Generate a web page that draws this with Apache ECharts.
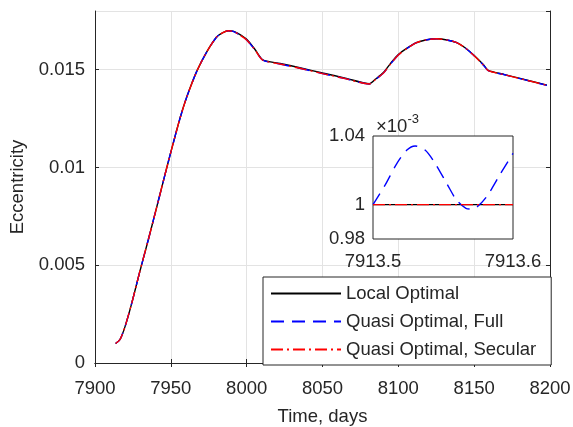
<!DOCTYPE html>
<html>
<head>
<meta charset="utf-8">
<script src="https://cdn.jsdelivr.net/npm/echarts@6/dist/echarts.min.js"></script>
<style>
html,body{margin:0;padding:0;background:#fff;}
#c{width:573px;height:427px;}
</style>
</head>
<body>
<div id="c"></div>
<script>
// ---- data ----
const days = [7913.6, 7916.5, 7919.8, 7924.2, 7929.7, 7935.1, 7939.6, 7944.0, 7946.8, 7950, 7956.0, 7960.5, 7967.0, 7973.6, 7980.2, 7984, 7987.9, 7991, 7994.5, 8000.0, 8005.5, 8010.6, 8022, 8035, 8050, 8065, 8080.9, 8085, 8090, 8095, 8100, 8106, 8112, 8118, 8125.3, 8132, 8138.5, 8144, 8149.5, 8156, 8159.3, 8170, 8185, 8198];
const eQuasiFull = [0.00100, 0.00120, 0.00186, 0.00305, 0.00472, 0.00629, 0.00764, 0.00898, 0.00983, 0.01078, 0.01250, 0.01360, 0.01490, 0.01590, 0.01667, 0.01688, 0.01699, 0.01696, 0.01682, 0.01652, 0.01601, 0.01549, 0.01529, 0.01507, 0.01480, 0.01454, 0.01427, 0.01450, 0.01481, 0.01530, 0.01575, 0.01610, 0.01638, 0.01652, 0.01658, 0.01652, 0.01638, 0.01612, 0.01575, 0.01524, 0.01495, 0.01474, 0.01445, 0.01420];
const eQuasiSecular = [0.00100, 0.00120, 0.00186, 0.00305, 0.00472, 0.00629, 0.00764, 0.00898, 0.00983, 0.01078, 0.01250, 0.01360, 0.01490, 0.01590, 0.01667, 0.01688, 0.01699, 0.01696, 0.01682, 0.01652, 0.01601, 0.01549, 0.01529, 0.01507, 0.01480, 0.01454, 0.01427, 0.01450, 0.01481, 0.01530, 0.01575, 0.01610, 0.01638, 0.01652, 0.01658, 0.01652, 0.01638, 0.01612, 0.01575, 0.01524, 0.01495, 0.01474, 0.01445, 0.01420];
const eLocal = [0.00100, 0.00120, 0.00186, 0.00305, 0.00472, 0.00629, 0.00764, 0.00898, 0.00983, 0.01078, 0.01250, 0.01360, 0.01490, 0.01590, 0.01667, 0.01688, 0.01699, 0.01697, 0.01684, 0.01655, 0.01603, 0.01550, 0.01532, 0.01510, 0.01483, 0.01457, 0.01428, 0.01452, 0.01484, 0.01533, 0.01577, 0.01611, 0.01638, 0.01652, 0.01658, 0.01652, 0.01638, 0.01612, 0.01576, 0.01526, 0.01496, 0.01475, 0.01446, 0.01421];

// inset (values in units of 1e-3)
const insetT = [7913.5, 7913.5087, 7913.5171, 7913.5242, 7913.5301, 7913.5372, 7913.5443, 7913.5526, 7913.5597, 7913.5664, 7913.5702, 7913.5740, 7913.5811, 7913.5905, 7913.6];
const insetFull = [1.000, 1.0115, 1.0241, 1.0318, 1.0342, 1.0318, 1.0241, 1.0124, 1.0027, 0.9979, 0.9975, 0.9985, 1.0046, 1.0173, 1.0299];
const insetSecularT = [7913.5, 7913.6];
const insetSecular = [1.0, 1.0];
const insetLocal = [1.0, 1.0];

const xTicks = {min: 7900, max: 8200, interval: 50};
const yTicks = {min: 0, max: 0.018, interval: 0.005};
const seriesNames = ['Local Optimal', 'Quasi Optimal, Full', 'Quasi Optimal, Secular'];

// ---- chart ----
const FONT = 'Liberation Sans, Arial, sans-serif';
const FS = 18.5;
const TXT = '#262626';
const LW = 1.4;
const SM = 0.25;
const zip = (a, b) => a.map((v, i) => [v, b[i]]);

const chart = echarts.init(document.getElementById('c'), null, {renderer: 'canvas'});

const boxAxis = {
  axisLine: {show: true, lineStyle: {color: TXT, width: 1}},
  axisTick: {show: true, inside: true, length: 4, lineStyle: {color: TXT}},
};

const option = {
  animation: false,
  backgroundColor: '#fff',
  textStyle: {fontFamily: FONT},
  grid: [
    {left: 95, top: 11, width: 455, height: 352, show: false, containLabel: false, outerBoundsMode: 'none'},
    {left: 373, top: 136, width: 140, height: 103, show: true, z: 5, containLabel: false, outerBoundsMode: 'none',
     backgroundColor: '#fff', borderColor: TXT, borderWidth: 1}
  ],
  xAxis: [
    Object.assign({}, boxAxis, {
      gridIndex: 0, type: 'value', position: 'bottom',
      min: xTicks.min, max: xTicks.max, interval: xTicks.interval,
      splitLine: {show: true, lineStyle: {color: '#e3e3e3', width: 1}},
      axisLabel: {color: TXT, fontSize: FS, fontFamily: FONT, margin: 16, formatter: v => String(v)},
      name: 'Time, days', nameLocation: 'middle', nameGap: 44,
      nameTextStyle: {color: TXT, fontSize: FS, fontFamily: FONT}
    }),
    Object.assign({}, boxAxis, {
      gridIndex: 0, type: 'value', position: 'top',
      min: xTicks.min, max: xTicks.max, interval: xTicks.interval,
      splitLine: {show: false}, axisLabel: {show: false}
    }),
    {
      gridIndex: 1, type: 'value', position: 'bottom', z: 5,
      min: 7913.5, max: 7913.6, interval: 0.1,
      axisLine: {show: false}, axisTick: {show: false}, splitLine: {show: false},
      axisLabel: {color: TXT, fontSize: FS, fontFamily: FONT, margin: 13,
        formatter: v => v.toFixed(1)}
    }
  ],
  yAxis: [
    Object.assign({}, boxAxis, {
      gridIndex: 0, type: 'value', position: 'left',
      min: yTicks.min, max: yTicks.max, interval: yTicks.interval,
      splitLine: {show: true, lineStyle: {color: '#e3e3e3', width: 1}},
      axisLabel: {color: TXT, fontSize: FS, fontFamily: FONT, margin: 10, showMaxLabel: false,
        formatter: v => String(parseFloat(v.toFixed(4)))},
      name: 'Eccentricity', nameLocation: 'middle', nameGap: 65,
      nameTextStyle: {color: TXT, fontSize: FS, fontFamily: FONT}
    }),
    Object.assign({}, boxAxis, {
      gridIndex: 0, type: 'value', position: 'right',
      min: yTicks.min, max: yTicks.max, interval: yTicks.interval,
      splitLine: {show: false}, axisLabel: {show: false}
    }),
    {
      gridIndex: 1, type: 'value', position: 'left', z: 5,
      min: 0.98, max: 1.04, interval: 0.02,
      axisLine: {show: false}, axisTick: {show: false}, splitLine: {show: false},
      axisLabel: {color: TXT, fontSize: FS, fontFamily: FONT, margin: 8,
        formatter: v => Math.abs(v - 1.02) < 1e-6 ? '' : String(parseFloat(v.toFixed(2)))}
    }
  ],
  legend: {
    orient: 'vertical', left: 263, top: 277,
    padding: [7, 15, 6, 7], itemGap: 9, itemWidth: 70, itemHeight: 18,
    backgroundColor: '#fff', borderColor: TXT, borderWidth: 1, borderRadius: 0,
    itemStyle: {color: 'rgba(0,0,0,0)', borderColor: 'rgba(0,0,0,0)', borderWidth: 0, opacity: 0},
    textStyle: {color: TXT, fontSize: FS, fontFamily: FONT},
    data: seriesNames, z: 10
  },
  graphic: [{
    type: 'text', left: 376, top: 113, z: 10,
    style: {
      text: '{a|×10}{b|-3}',
      rich: {
        a: {fontSize: FS, fontFamily: FONT, fill: TXT, verticalAlign: 'bottom'},
        b: {fontSize: 13, fontFamily: FONT, fill: TXT, verticalAlign: 'top', padding: [0, 0, 10, 0]}
      }
    }
  }],
  series: [
    {name: seriesNames[0], type: 'line', xAxisIndex: 0, yAxisIndex: 0, symbol: 'none', z: 2, smooth: SM,
     data: zip(days, eLocal), lineStyle: {color: '#000', width: LW}, itemStyle: {color: '#000'}},
    {name: seriesNames[1], type: 'line', xAxisIndex: 0, yAxisIndex: 0, symbol: 'none', z: 3, smooth: SM,
     data: zip(days, eQuasiFull), lineStyle: {color: '#0000ff', width: LW, type: [13, 8]}, itemStyle: {color: '#0000ff'}},
    {name: seriesNames[2], type: 'line', xAxisIndex: 0, yAxisIndex: 0, symbol: 'none', z: 4, smooth: SM,
     data: zip(days, eQuasiSecular), lineStyle: {color: '#ff0000', width: LW, type: [12, 4, 2, 4]}, itemStyle: {color: '#ff0000'}},
    {name: seriesNames[0], type: 'line', xAxisIndex: 2, yAxisIndex: 2, symbol: 'none', z: 6,
     data: zip(insetSecularT, insetLocal), lineStyle: {color: '#000', width: LW}},
    {name: seriesNames[1], type: 'line', xAxisIndex: 2, yAxisIndex: 2, symbol: 'none', z: 7, smooth: 0.3,
     data: zip(insetT, insetFull), lineStyle: {color: '#0000ff', width: LW, type: [13, 8]}},
    {name: seriesNames[2], type: 'line', xAxisIndex: 2, yAxisIndex: 2, symbol: 'none', z: 8,
     data: zip(insetSecularT, insetSecular), lineStyle: {color: '#ff0000', width: LW, type: [12, 4, 2, 4]}}
  ]
};
chart.setOption(option);
</script>
</body>
</html>
